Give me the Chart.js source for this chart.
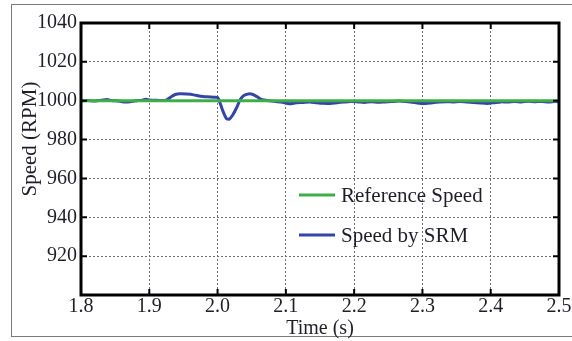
<!DOCTYPE html>
<html>
<head>
<meta charset="utf-8">
<script src="https://cdn.jsdelivr.net/npm/chart.js@4/dist/chart.umd.min.js"></script>
<style>
  html, body { margin: 0; padding: 0; background: #fff; }
  #wrap { position: relative; width: 572px; height: 341px; }
  #frame { position: absolute; left: 11px; top: 4px; width: 580px; height: 333px;
           border: 1px solid #7a7a7a; box-sizing: border-box; }
  canvas { position: absolute; left: 0; top: 0; }
</style>
</head>
<body>
<div id="wrap">
  <div id="frame"></div>
  <canvas id="speedChart" width="572" height="341"></canvas>
</div>
<script>
// Speed response data
const xTicks = [1.8, 1.9, 2.0, 2.1, 2.2, 2.3, 2.4, 2.5];
const yTicks = [900, 920, 940, 960, 980, 1000, 1020, 1040];

const refTime = [1.8, 2.5];
const refSpeed = [1000, 1000];

const srmTime = [
    1.800, 1.810, 1.820, 1.830, 1.838, 1.845, 1.855, 1.865, 1.872, 1.880,
    1.890, 1.895, 1.900, 1.910, 1.920, 1.925, 1.932, 1.938, 1.945, 1.955,
    1.965, 1.975, 1.985, 1.995, 2.000, 2.003, 2.008, 2.013, 2.017, 2.022,
    2.028, 2.033, 2.038, 2.045, 2.052, 2.058, 2.065, 2.075, 2.085, 2.095,
    2.105, 2.115, 2.125, 2.135, 2.145, 2.155, 2.165, 2.175, 2.185, 2.195,
    2.205, 2.215, 2.225, 2.235, 2.245, 2.255, 2.265, 2.275, 2.285, 2.295,
    2.305, 2.315, 2.325, 2.335, 2.345, 2.355, 2.365, 2.375, 2.385, 2.395,
    2.405, 2.415, 2.425, 2.435, 2.445, 2.455, 2.465, 2.475, 2.485, 2.495,
    2.500
];
const srmSpeed = [
    1000.0, 1000.1, 999.9, 1000.2, 1000.6, 1000.1, 999.8, 999.3, 999.5, 1000.0,
    1000.3, 1000.8, 1000.4, 1000.2, 1000.1, 1000.3, 1002.0, 1003.2, 1003.6, 1003.4,
    1003.0, 1002.3, 1002.0, 1001.8, 1001.7, 999.5, 994.5, 990.8, 990.5, 992.5,
    996.5, 1000.5, 1002.6, 1003.5, 1003.2, 1002.0, 1000.5, 1000.0, 999.6, 999.2,
    998.5, 998.9, 999.1, 999.4, 999.0, 998.7, 998.6, 999.0, 999.3, 999.6,
    999.4, 999.1, 999.5, 999.2, 999.4, 999.6, 999.8, 999.6, 999.2, 998.7,
    998.6, 999.0, 999.3, 999.5, 999.4, 999.6, 999.3, 999.1, 998.8, 998.6,
    999.0, 999.4, 999.3, 999.6, 999.4, 999.7, 999.5, 999.6, 999.3, 999.6,
    999.4
];

const FONT = 'Liberation Serif';
const TEXT = '#1e1e28';
const GREEN = '#3fae49';
const BLUE = '#3445a6';

function toPoints(xs, ys) {
    return xs.map((x, i) => ({ x: x, y: ys[i] }));
}

// Frame, inward ticks, legend and y title
const framePlugin = {
    id: 'framePlugin',
    afterDatasetsDraw(chart) {
        const ctx = chart.ctx;
        const a = chart.chartArea;
        const xs = chart.scales.x, ys = chart.scales.y;
        ctx.save();
        // inward tick marks
        ctx.strokeStyle = '#000';
        ctx.lineWidth = 2;
        ctx.beginPath();
        xTicks.forEach(v => {
            const px = xs.getPixelForValue(v);
            ctx.moveTo(px, a.bottom); ctx.lineTo(px, a.bottom - 6);
            ctx.moveTo(px, a.top); ctx.lineTo(px, a.top + 6);
        });
        yTicks.forEach(v => {
            const py = ys.getPixelForValue(v);
            ctx.moveTo(a.left, py); ctx.lineTo(a.left + 6, py);
            ctx.moveTo(a.right, py); ctx.lineTo(a.right - 6, py);
        });
        ctx.stroke();
        // thick border
        ctx.lineWidth = 3;
        ctx.strokeRect(a.left, a.top, a.right - a.left, a.bottom - a.top);

        // legend
        ctx.font = '21px "' + FONT + '"';
        ctx.textBaseline = 'middle';
        ctx.textAlign = 'left';
        const rows = [195, 235];
        chart.data.datasets.forEach((ds, i) => {
            ctx.strokeStyle = ds.borderColor;
            ctx.lineWidth = 3;
            ctx.beginPath();
            ctx.moveTo(299, rows[i]);
            ctx.lineTo(335, rows[i]);
            ctx.stroke();
            ctx.fillStyle = TEXT;
            ctx.fillText(ds.label, 341, rows[i] + 1);
        });

        // y axis title
        ctx.translate(29, 139);
        ctx.rotate(-Math.PI / 2);
        ctx.textAlign = 'center';
        ctx.fillText('Speed (RPM)', 0, 1);
        ctx.restore();
    }
};

new Chart(document.getElementById('speedChart'), {
    type: 'line',
    data: {
        datasets: [{
            label: 'Reference Speed',
            data: toPoints(refTime, refSpeed),
            borderColor: GREEN,
            borderWidth: 3,
            pointRadius: 0,
            tension: 0
        }, {
            label: 'Speed by SRM',
            data: toPoints(srmTime, srmSpeed),
            borderColor: BLUE,
            borderWidth: 3,
            pointRadius: 0,
            tension: 0.2
        }]
    },
    options: {
        responsive: false,
        animation: false,
        layout: { padding: { left: 0, top: 23, right: 13, bottom: 0 } },
        plugins: {
            legend: { display: false },
            tooltip: { enabled: false }
        },
        scales: {
            x: {
                type: 'linear',
                min: 1.8,
                max: 2.5,
                afterBuildTicks: s => { s.ticks = xTicks.map(v => ({ value: v })); },
                afterFit: s => { s.height = 46; },
                border: { display: false, dash: [2, 2] },
                grid: { color: '#6e6e6e', lineWidth: 1, drawTicks: false },
                ticks: {
                    padding: 0,
                    color: TEXT,
                    font: { family: FONT, size: 20 },
                    maxRotation: 0,
                    callback: v => Number(v).toFixed(1)
                },
                title: {
                    display: true,
                    text: 'Time (s)',
                    color: TEXT,
                    font: { family: FONT, size: 20 },
                    padding: { top: -7, bottom: 0 }
                }
            },
            y: {
                min: 900,
                max: 1040,
                afterBuildTicks: s => { s.ticks = yTicks.map(v => ({ value: v })); },
                afterFit: s => { s.width = 81; },
                border: { display: false, dash: [2, 2] },
                grid: { color: '#6e6e6e', lineWidth: 1, drawTicks: false },
                ticks: {
                    padding: 4,
                    color: TEXT,
                    font: { family: FONT, size: 20 },
                    callback: v => (v === 900 ? '' : v)
                }
            }
        }
    },
    plugins: [framePlugin]
});
</script>
</body>
</html>
